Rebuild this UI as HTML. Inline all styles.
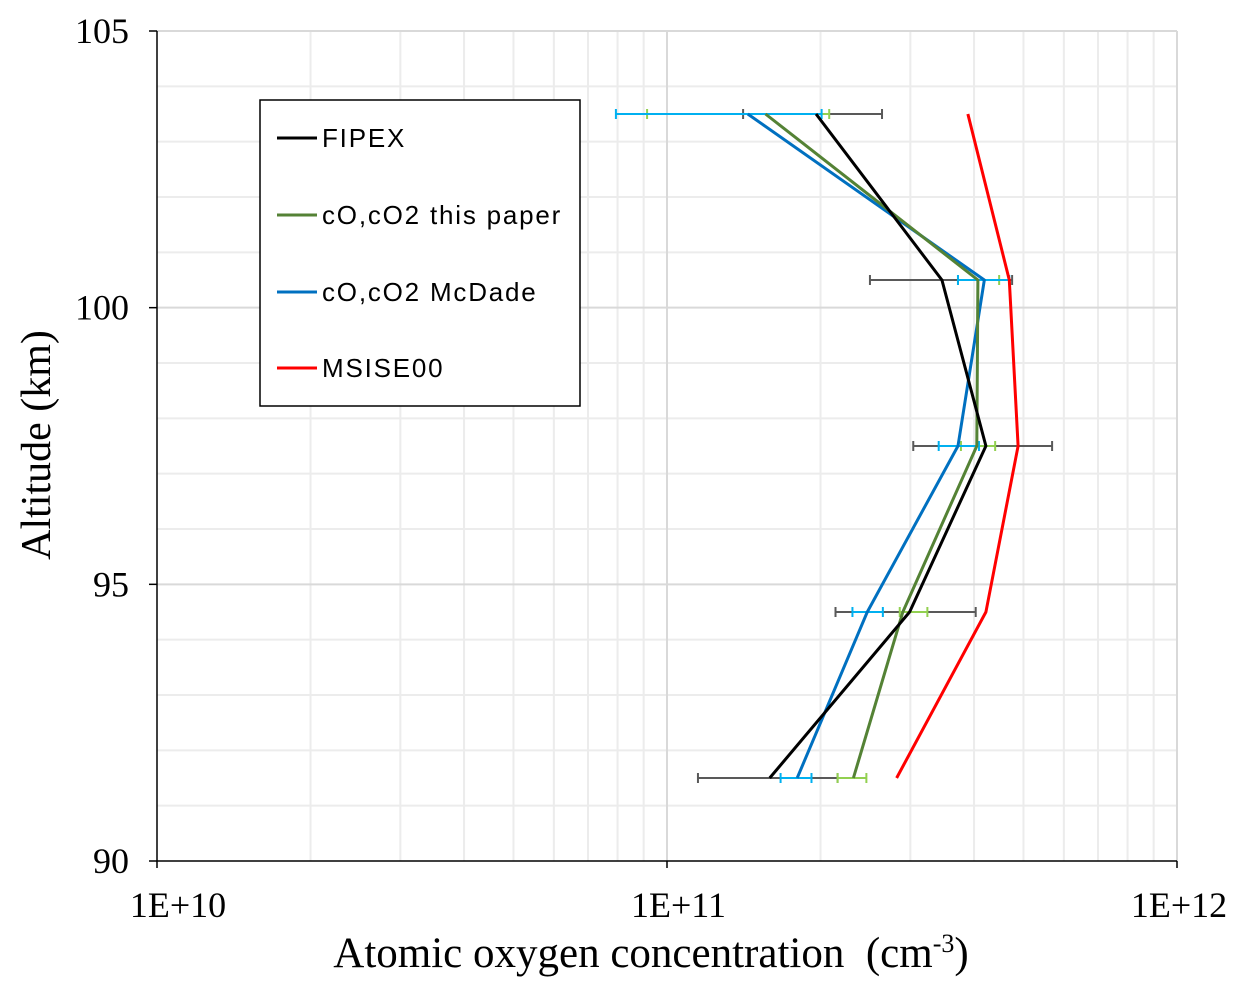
<!DOCTYPE html>
<html><head><meta charset="utf-8"><style>
body{margin:0;background:#fff;}
svg{display:block;}
.tk{font-family:"Liberation Serif",serif;font-size:36px;fill:#000;}
.lg{font-family:"Liberation Sans",sans-serif;font-size:26px;letter-spacing:1.8px;fill:#000;}
</style></head><body>
<svg id="chart" width="1246" height="997" xmlns="http://www.w3.org/2000/svg">
<g id="grid"></g>
<g id="series"></g>
<g id="axes"></g>
<text transform="translate(50,445) rotate(-90)" text-anchor="middle" style="font-family:'Liberation Serif',serif;font-size:42px">Altitude (km)</text>
<text x="651" y="967" text-anchor="middle" style="font-family:'Liberation Serif',serif;font-size:43px;white-space:pre" xml:space="preserve">Atomic oxygen concentration  (cm<tspan dy="-15" font-size="26">-3</tspan><tspan dy="15">)</tspan></text>
<g>
<rect x="260" y="100" width="320" height="306" fill="#fff" stroke="#000" stroke-width="1.5"/>
<line x1="277" y1="138" x2="317" y2="138" stroke="#000" stroke-width="3"/><text class="lg" x="322" y="147">FIPEX</text>
<line x1="277" y1="215" x2="317" y2="215" stroke="#548235" stroke-width="3"/><text class="lg" x="322" y="224">cO,cO2 this paper</text>
<line x1="277" y1="292" x2="317" y2="292" stroke="#0070c0" stroke-width="3"/><text class="lg" x="322" y="301">cO,cO2 McDade</text>
<line x1="277" y1="368" x2="317" y2="368" stroke="#ff0000" stroke-width="3"/><text class="lg" x="322" y="377">MSISE00</text>
</g>
</svg>
<script>
const altitudes=[103.5,100.5,97.5,94.5,91.5];
const fipex=[1.96e11,3.46e11,4.22e11,2.99e11,1.59e11];
const fipexLo=[1.41e11,2.50e11,3.04e11,2.14e11,1.15e11];
const fipexHi=[2.64e11,4.75e11,5.69e11,4.03e11,2.16e11];
const thisPaper=[1.56e11,4.07e11,4.05e11,2.90e11,2.32e11];
const thisPaperLo=[9.14e10,3.72e11,3.77e11,2.86e11,2.16e11];
const thisPaperHi=[2.08e11,4.48e11,4.40e11,3.24e11,2.46e11];
const mcdade=[1.44e11,4.19e11,3.72e11,2.47e11,1.80e11];
const mcdadeLo=[7.94e10,3.72e11,3.41e11,2.31e11,1.67e11];
const mcdadeHi=[2.01e11,4.69e11,4.09e11,2.65e11,1.92e11];
const msise=[3.89e11,4.69e11,4.88e11,4.22e11,2.82e11];
const yTicks=[90,95,100,105];
const xTicks=[1e10,1e11,1e12];
const xTickLabels=["1E+10","1E+11","1E+12"];

const X0=157,X1=1177,Y0=861,Y1=31;
const xs=v=>X0+(Math.log10(v)-10)/2*(X1-X0);
const ys=a=>Y0-(a-90)/15*(Y0-Y1);
const NS="http://www.w3.org/2000/svg";
function mk(p,t,at){const e=document.createElementNS(NS,t);for(const k in at)e.setAttribute(k,at[k]);p.appendChild(e);return e;}
const grid=document.getElementById('grid'),axes=document.getElementById('axes'),ser=document.getElementById('series');
for(let d=10;d<12;d++)for(let m=2;m<=9;m++){const x=xs(m*Math.pow(10,d));
const l=mk(grid,'line',{x1:x,x2:x,y1:Y1,y2:Y0,stroke:'#ececec','stroke-width':2});

}
for(let a=91;a<=105;a++){const y=ys(a);const maj=a%5==0;
const l=mk(grid,'line',{x1:X0,x2:X1,y1:y,y2:y,stroke:maj?'#d9d9d9':'#ececec','stroke-width':2});

}
xTicks.forEach((t,i)=>{const x=xs(t);
if(i>0){const g=mk(grid,'line',{x1:x,x2:x,y1:Y1,y2:Y0,stroke:'#d9d9d9','stroke-width':2});

}
const tk=mk(axes,'line',{x1:x,x2:x,y1:Y0,y2:Y0+7,stroke:'#000','stroke-width':1.5});


const tx=mk(axes,'text',{x:x+21-19*i/2*2/2,y:Y0+56,'text-anchor':'middle',class:'tk'});tx.textContent=xTickLabels[i];

});
yTicks.forEach(t=>{const y=ys(t);
const tk=mk(axes,'line',{x1:X0-8,x2:X0,y1:y,y2:y,stroke:'#000','stroke-width':1.5});


const tx=mk(axes,'text',{x:X0-28,y:y+12,'text-anchor':'end',class:'tk'});tx.textContent=t;

});
const ax=mk(axes,'path',{d:`M${X0},${Y1}V${Y0}H${X1}`,fill:'none',stroke:'#000','stroke-width':1.5});


function errs(lo,hi,col,name){altitudes.forEach((a,i)=>{const y=ys(a),x1=xs(lo[i]),x2=xs(hi[i]);
const e=mk(ser,'path',{d:`M${x1},${y}H${x2}M${x1},${y-5}V${y+5}M${x2},${y-5}V${y+5}`,stroke:col,'stroke-width':2,fill:'none'});

});}
function line(v,col,name){const d=altitudes.map((a,i)=>(i?'L':'M')+xs(v[i])+','+ys(a)).join('');
const p=mk(ser,'path',{d:d,stroke:col,'stroke-width':3,fill:'none','stroke-linejoin':'round'});

}
errs(fipexLo,fipexHi,'#595959','fipex-error-bar');
errs(thisPaperLo,thisPaperHi,'#92d050','this-paper-error-bar');
errs(mcdadeLo,mcdadeHi,'#00b0f0','mcdade-error-bar');
line(msise,'#ff0000','msise00-line');
line(mcdade,'#0070c0','mcdade-line');
line(thisPaper,'#548235','this-paper-line');
line(fipex,'#000000','fipex-line');
</script>
</body></html>
